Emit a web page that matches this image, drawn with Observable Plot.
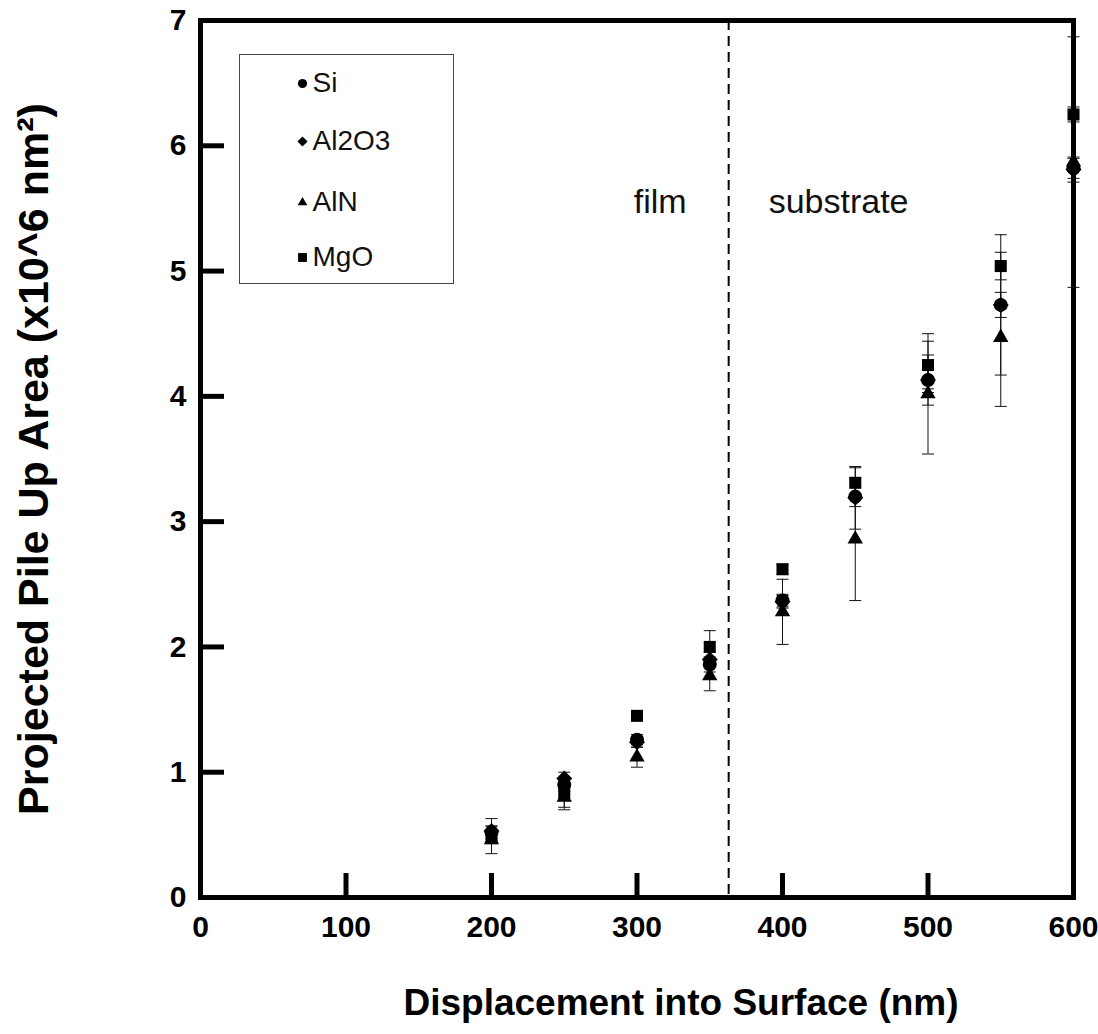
<!DOCTYPE html>
<html><head><meta charset="utf-8">
<script src="https://cdn.jsdelivr.net/npm/d3@7"></script>
<script src="https://cdn.jsdelivr.net/npm/@observablehq/plot@0.6"></script>
<style>body{margin:0;background:#fff;} #chart{width:1098px;height:1034px;}</style>
</head><body><div id="chart"></div>
<script>
// ---- data ----
const depth = [200, 250, 300, 350, 400, 450, 500, 550, 600];
const siValues    = [0.52, 0.90, 1.26, 1.86, 2.37, 3.20, 4.13, 4.73, 5.82];
const siErr       = [0.05, 0.05, 0.04, 0.06, 0.05, 0.08, 0.10, 0.10, 0.08];
const al2o3Values = [0.53, 0.95, 1.24, 1.90, 2.36, 3.19, 4.13, 4.73, 5.81];
const al2o3Err    = [0.10, 0.05, 0.04, 0.06, 0.05, 0.25, 0.20, 0.56, 0.10];
const alnValues   = [0.46, 0.80, 1.12, 1.77, 2.28, 2.86, 4.02, 4.47, 5.87];
const alnErr      = [0.11, 0.10, 0.08, 0.12, 0.26, 0.49, 0.48, 0.55, 1.00];
const mgoValues   = [0.49, 0.83, 1.45, 2.00, 2.62, 3.31, 4.25, 5.04, 6.25];
const mgoErr      = [0.05, 0.11, 0.03, 0.13, 0.04, 0.12, 0.19, 0.11, 0.06];
const seriesNames = ["Si", "Al2O3", "AlN", "MgO"];
const xTicks = [0, 100, 200, 300, 400, 500, 600];
const yTicks = [0, 1, 2, 3, 4, 5, 6, 7];
const filmBoundary = 363;
const regionLabels = ["film", "substrate"];
const xTitle = "Displacement into Surface (nm)";
const yTitle = "Projected Pile Up Area (x10^6 nm²)";

// ---- styling per series ----
const styles = {
  "Si":    {symbol: "circle",   r: 7.0, lr: 4.6},
  "Al2O3": {symbol: "diamond2", r: 7.2, lr: 4.6},
  "AlN":   {symbol: "triangle", r: 5.7, lr: 3.6},
  "MgO":   {symbol: "square",   r: 6.8, lr: 5.0}
};
const valueSets = [siValues, al2o3Values, alnValues, mgoValues];
const errSets = [siErr, al2o3Err, alnErr, mgoErr];
const rows = seriesNames.flatMap((name, k) => depth.map((d, i) => ({
  series: name, depth: d, value: valueSets[k][i], err: errSets[k][i]
})));

const cap = {draw(ctx) { ctx.moveTo(-6, 0); ctx.lineTo(6, 0); }};
const font = "'Liberation Sans', Arial, Helvetica, sans-serif";
const legendRowsY = [63, 121, 182, 237];

const marks = [
  // error bars
  Plot.ruleX(rows, {x: "depth", y1: d => d.value - d.err, y2: d => d.value + d.err, stroke: "#111", strokeWidth: 1}),
  Plot.dot(rows, {x: "depth", y: d => d.value + d.err, symbol: cap, stroke: "#111", strokeWidth: 1, fill: "none"}),
  Plot.dot(rows, {x: "depth", y: d => d.value - d.err, symbol: cap, stroke: "#111", strokeWidth: 1, fill: "none"}),
  // film/substrate boundary
  Plot.ruleX([filmBoundary], {stroke: "black", strokeWidth: 2, strokeDasharray: "10,6"}),
  Plot.text([regionLabels[0]], {x: () => filmBoundary, y: () => 5.55, text: d => d, textAnchor: "end", dx: -42, fontSize: 34, fill: "#111"}),
  Plot.text([regionLabels[1]], {x: () => filmBoundary, y: () => 5.55, text: d => d, textAnchor: "start", dx: 40, fontSize: 34, fill: "#111"}),
  // markers
  ...seriesNames.map(name => Plot.dot(rows.filter(d => d.series === name), {
    x: "depth", y: "value", symbol: styles[name].symbol, r: styles[name].r, fill: "black", stroke: "none"
  })),
  // frame & ticks
  Plot.frame({stroke: "black", strokeWidth: 5}),
  Plot.axisY({ticks: yTicks, tickSize: -24, strokeWidth: 5, text: null, label: null}),
  Plot.axisX({ticks: xTicks, tickSize: -24, strokeWidth: 5, text: null, label: null}),
  Plot.axisY({ticks: yTicks, tickSize: 0, tickPadding: 14, fontSize: 30, fontWeight: "bold", tickFormat: d => d, label: null}),
  Plot.axisX({ticks: xTicks, tickSize: 0, tickPadding: 18, fontSize: 30, fontWeight: "bold", tickFormat: d => d, label: null}),
  // axis titles
  Plot.text([xTitle], {text: d => d, frameAnchor: "bottom", dy: 106, dx: 44, fontSize: 37, fontWeight: "bold", lineAnchor: "middle"}),
  Plot.text([yTitle], {text: d => d, frameAnchor: "left", dx: -166, rotate: -90, fontSize: 43, fontWeight: "bold", textAnchor: "middle", lineAnchor: "middle"}),
  // legend
  ...seriesNames.map((name, i) => Plot.dot([name], {frameAnchor: "top-left", dx: 102, dy: legendRowsY[i], symbol: styles[name].symbol, r: styles[name].lr, fill: "black"})),
  ...seriesNames.map((name, i) => Plot.text([name], {text: d => d, frameAnchor: "top-left", dx: 112, dy: legendRowsY[i], textAnchor: "start", lineAnchor: "middle", fontSize: 28, fill: "#111"}))
];

const chart = Plot.plot({
  width: 1098, height: 1034,
  marginLeft: 200, marginRight: 25, marginTop: 20, marginBottom: 137,
  x: {domain: [0, 600]},
  y: {domain: [0, 7]},
  style: {fontFamily: font, background: "white", color: "black", overflow: "visible"},
  marks
});

// legend box
d3.select(chart).insert("rect", ":first-child")
  .attr("x", 239.5).attr("y", 54.5).attr("width", 214).attr("height", 229)
  .attr("fill", "white").attr("stroke", "#444").attr("stroke-width", 1);
d3.select(chart).insert("rect", ":first-child")
  .attr("width", 1098).attr("height", 1034).attr("fill", "white");

document.getElementById("chart").appendChild(chart);
</script>
</body></html>
